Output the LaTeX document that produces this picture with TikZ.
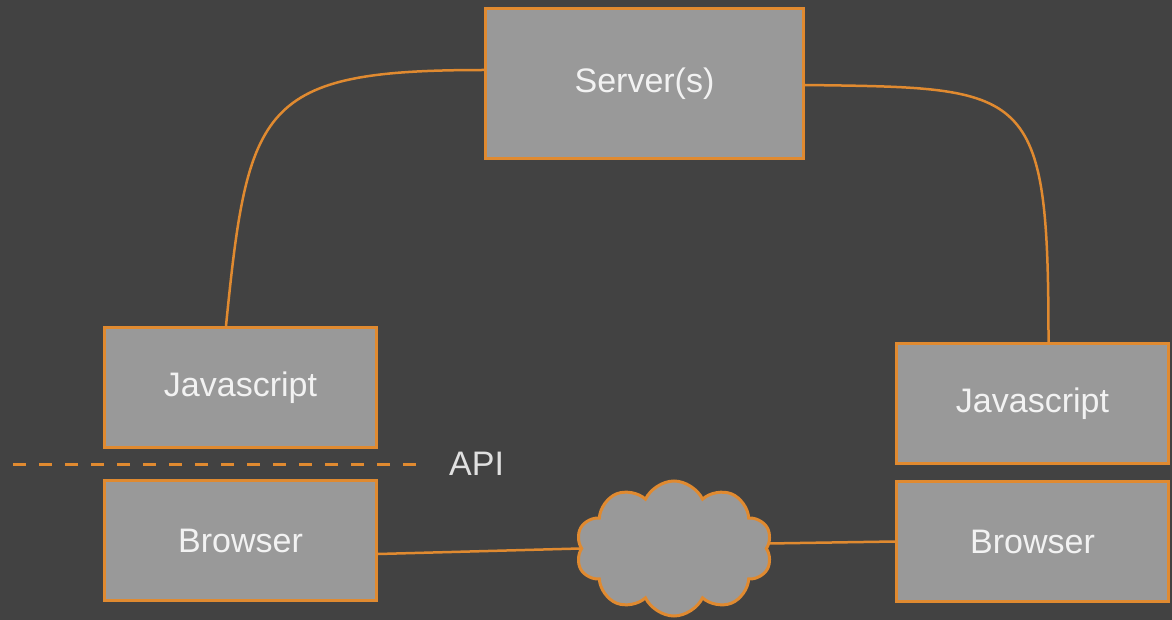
\documentclass[tikz,border=0pt]{standalone}
\usepackage{fontspec}
\setmainfont{Liberation Sans}
\usetikzlibrary{shapes.symbols}
\definecolor{bggray}{HTML}{424242}
\definecolor{boxgray}{HTML}{999999}
\definecolor{wire}{HTML}{E08A30}
\definecolor{labeltext}{HTML}{F2F2F2}

\begin{document}
\begin{tikzpicture}[x=1pt, y=-1pt,
  box/.style={draw=wire, line width=3pt, fill=boxgray, text=labeltext,
    font=\fontsize{34}{40}\selectfont, minimum width=272pt, minimum height=120pt},
  link/.style={draw=wire, line width=2.5pt},
  apidash/.style={draw=wire, line width=3pt, dash pattern=on 13pt off 13pt}]
  \fill[bggray] (0,0) rectangle (1172,620);

  \node[box, minimum width=318pt, minimum height=150pt] (server) at (644.5,83.5) {Server(s)};
  \node[box] (ljs) at (240.5,387.5) {Javascript};
  \node[box] (lbrowser) at (240.5,540.5) {Browser};
  \node[box] (rjs) at (1032.5,403.5) {Javascript};
  \node[box] (rbrowser) at (1032.5,541.5) {Browser};
  \node[cloud, cloud puffs=10, cloud puff arc=130, cloud ignores aspect,
    draw=wire, line width=3pt, fill=boxgray,
    minimum width=196pt, minimum height=135pt] (net) at (674,548.5) {};
  \node[anchor=west, inner sep=0pt, text=labeltext!90!bggray,
    font=\fontsize{34}{40}\selectfont] (api) at (449,464) {API};

  \draw[apidash] (13,464) -- (425,464);

  \draw[link] ([yshift=13.5pt]server.west) .. controls +(-224,0) and +(22,-221) .. ([xshift=-14.5pt]ljs.north);
  \draw[link] ([yshift=-1.5pt]server.east) .. controls +(225,3) and +(0,-257) .. ([xshift=16pt]rjs.north);
  \draw[link] ([yshift=-13.5pt]lbrowser.east) -- (net.west);
  \draw[link] ([yshift=5pt]net.east) -- (rbrowser.west);
\end{tikzpicture}
\end{document}
